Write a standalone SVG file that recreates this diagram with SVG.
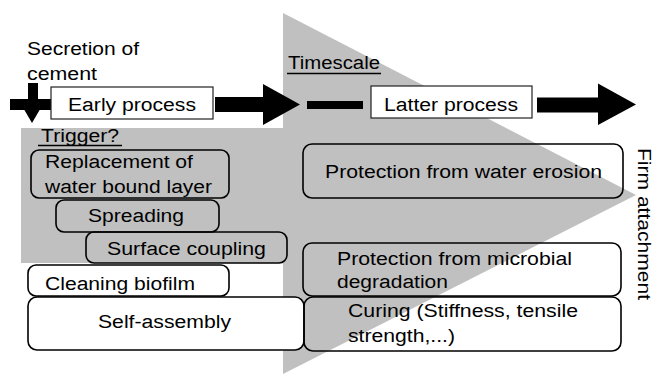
<svg xmlns="http://www.w3.org/2000/svg" width="654" height="374" viewBox="0 0 654 374">
<style>
text{font-family:"Liberation Sans",Arial,Helvetica,sans-serif;font-size:18px;fill:#000}
.box{stroke:#000;stroke-width:1.6;fill:none}
.wbox{stroke:#000;stroke-width:1.6;fill:#fff}
.proc{stroke:#222;stroke-width:1.2;fill:#fff}
.arr{fill:#000;stroke:none}
.ul{stroke:#000;stroke-width:1.5}
</style>
<rect width="654" height="374" fill="#fff"/>
<polygon id="background" points="21,128 283,128 283,13 636,195 283,374 283,263 21,263" fill="#c0c0c0"/>
<g id="connectors">
<rect class="arr" x="10" y="99" width="42" height="11"/>
<polygon class="arr" points="28,83 38,83 38,99 46,99 32,123 18,99 28,99"/>
<polygon class="arr" points="215,97 263,97 263,84 300,104.5 263,125 263,112 215,112"/>
<rect class="arr" x="307" y="101" width="56" height="8"/>
<polygon class="arr" points="537,97.5 598,97.5 598,83.5 636,104.5 598,125 598,112.5 537,112.5"/>
</g>
<g id="secretion">
<text x="27" y="55" textLength="112" lengthAdjust="spacingAndGlyphs">Secretion of</text>
<text x="27" y="80" textLength="70" lengthAdjust="spacingAndGlyphs">cement</text>
</g>
<g id="early">
<rect class="proc" x="51" y="87" width="162" height="32"/>
<text x="68" y="111" textLength="128" lengthAdjust="spacingAndGlyphs">Early process</text>
</g>
<g id="timescale">
<text x="288" y="69" textLength="92" lengthAdjust="spacingAndGlyphs">Timescale</text>
<line class="ul" x1="287" y1="73.5" x2="381" y2="73.5"/>
</g>
<g id="latter">
<rect class="proc" x="371" y="86" width="161" height="32"/>
<text x="384" y="111" textLength="134" lengthAdjust="spacingAndGlyphs">Latter process</text>
</g>
<g id="trigger">
<text x="41" y="142" textLength="78" lengthAdjust="spacingAndGlyphs">Trigger?</text>
<line class="ul" x1="38" y1="145.5" x2="122" y2="145.5"/>
</g>
<g id="replacement">
<rect class="box" x="31" y="150" width="198" height="48" rx="8"/>
<text x="45" y="168" textLength="148" lengthAdjust="spacingAndGlyphs">Replacement of</text>
<text x="45" y="193" textLength="167" lengthAdjust="spacingAndGlyphs">water bound layer</text>
</g>
<g id="spreading">
<rect class="box" x="56" y="200" width="163" height="32" rx="8"/>
<text x="88" y="222" textLength="96" lengthAdjust="spacingAndGlyphs">Spreading</text>
</g>
<g id="coupling">
<rect class="box" x="86" y="232" width="201" height="31" rx="8"/>
<text x="107" y="255" textLength="159" lengthAdjust="spacingAndGlyphs">Surface coupling</text>
</g>
<g id="cleaning">
<rect class="wbox" x="28" y="265" width="201" height="31" rx="8"/>
<text x="45" y="290" textLength="150" lengthAdjust="spacingAndGlyphs">Cleaning biofilm</text>
</g>
<g id="selfassembly">
<rect class="wbox" x="28" y="297" width="276" height="53" rx="9"/>
<text x="98" y="328" textLength="133" lengthAdjust="spacingAndGlyphs">Self-assembly</text>
</g>
<g id="erosion">
<rect class="box" x="303" y="144" width="320" height="54" rx="9"/>
<text x="325" y="178" textLength="277" lengthAdjust="spacingAndGlyphs">Protection from water erosion</text>
</g>
<g id="microbial">
<rect class="box" x="303" y="243" width="318" height="53" rx="9"/>
<text x="337" y="265" textLength="235" lengthAdjust="spacingAndGlyphs">Protection from microbial</text>
<text x="337" y="288" textLength="111" lengthAdjust="spacingAndGlyphs">degradation</text>
</g>
<g id="curing">
<rect class="box" x="304" y="297" width="317" height="54" rx="9"/>
<text x="348" y="317" textLength="230" lengthAdjust="spacingAndGlyphs">Curing (Stiffness, tensile</text>
<text x="348" y="342" textLength="107" lengthAdjust="spacingAndGlyphs">strength,...)</text>
</g>
<g id="firm">
<text transform="translate(638,148) rotate(90)" x="0" y="0" textLength="152" lengthAdjust="spacingAndGlyphs">Firm attachment</text>
</g>
</svg>
